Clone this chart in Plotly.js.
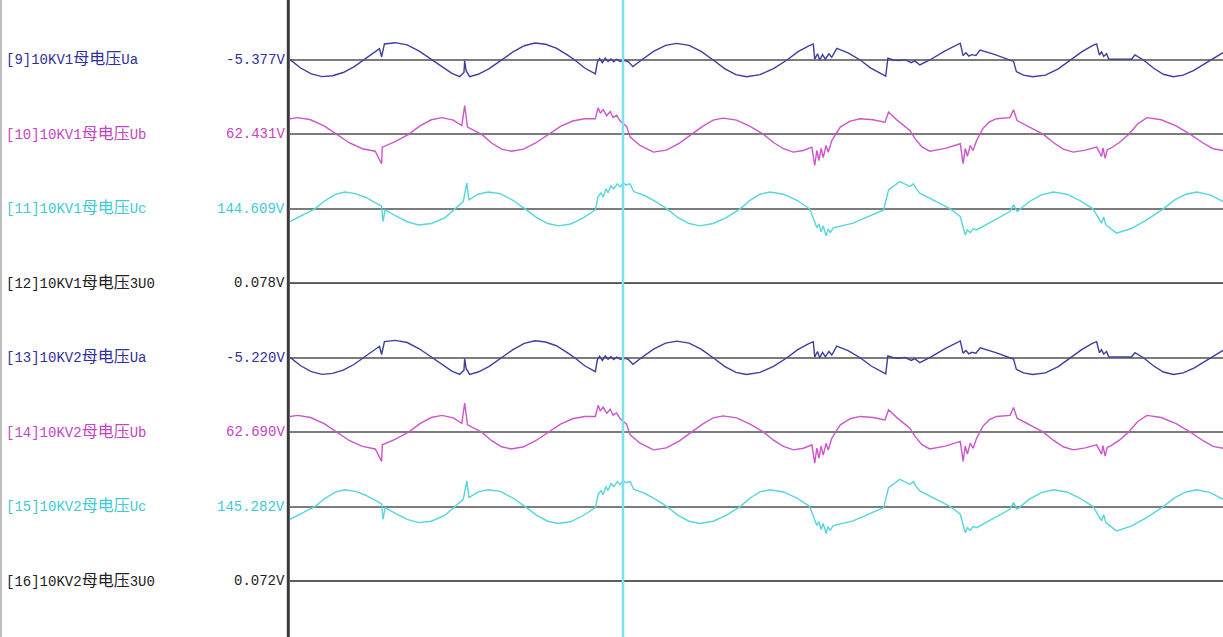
<!DOCTYPE html>
<html>
<head>
<meta charset="utf-8">
<script src="https://cdn.plot.ly/plotly-3.0.1.min.js"></script>
<style>
  html, body { margin: 0; padding: 0; background: #ffffff; }
  #chart { width: 1223px; height: 637px; }
</style>
</head>
<body>
<div id="chart"></div>
<script>
// Busbar voltage records (time in ms, instantaneous value in V)

// Phase A breakpoints, shared by both busbar sections
const tUa = [0, 1.5, 3, 4.5, 6, 7.5, 9, 10.3, 11.5, 12.6, 12.9, 13.3, 14.8, 16.5, 18.2, 20.0, 21.5, 22.8, 23.9, 24.5,
  24.6, 24.8, 25.3, 26.5, 28, 29.8, 31.4, 33, 34.5, 36, 37.5, 39, 40.1, 41.5, 43.0, 43.3, 43.6, 44.0, 44.4, 44.8,
  45.2, 45.6, 46.0, 46.5, 46.9, 47.3, 47.7, 48.3, 49.5, 51.2, 52.9, 54.5, 56.2, 57.9, 59.6, 61.2, 62.8, 64.3, 66.2, 68.1,
  70.0, 71.5, 73.0, 73.7, 73.9, 74.3, 74.6, 75.0, 75.4, 75.9, 76.3, 77.0, 78.6, 80.3, 81.8, 83.2, 83.9, 84.2, 85.0, 85.8,
  86.6, 87.5, 88.0, 88.7, 90.1, 92.2, 94.4, 94.8, 95.2, 95.6, 96.0, 96.6, 97.2, 99.3, 101.4, 101.9, 102.3, 103.3, 104.6, 106.4,
  108.2, 109.9, 111.5, 113.0, 113.6, 114.0, 114.3, 114.6, 115.0, 115.3, 118.5, 119.0, 119.6, 120.2, 121.6, 123.0, 124.4, 125.8, 127.3, 129.6,
  131.4];
const ua1 = [2, -45, -78, -93, -88, -70, -38, 0, 35, 64, 18, 90, 97, 85, 50, 0, -42, -75, -93, -70,
  -5, -60, -93, -80, -50, 0, 45, 80, 95, 88, 67, 30, 0, -45, -78, -10, 8, -15, 10, -8,
  6, -10, 4, -8, -5.377, -3, -12, -37, 0, 48, 82, 93, 82, 48, 0, -48, -82, -94, -82, -48,
  0, 45, 78, 90, 5, 35, 0, 30, 5, 35, 15, 65, 40, 0, -45, -78, -90, 10, 0, -3,
  2, -15, -5, -28, 0, 50, 94, 25, 40, 22, 30, 25, 56, 30, 0, -8, -65, -85, -94, -85,
  -50, 0, 45, 80, 90, 28, 45, 20, 35, 5, 4, 28, 15, 0, -45, -80, -94, -85, -58, 0,
  41];
const ua2 = [2, -45, -78, -93, -88, -70, -38, 0, 35, 64, 18, 90, 97, 85, 50, 0, -42, -75, -93, -70,
  -5, -60, -93, -80, -50, 0, 45, 80, 95, 88, 67, 30, 0, -45, -78, -10, 8, -15, 10, -8,
  6, -10, 4, -8, -5.220, -3, -12, -37, 0, 48, 82, 93, 82, 48, 0, -48, -82, -94, -82, -48,
  0, 45, 78, 90, 5, 35, 0, 30, 5, 35, 15, 65, 40, 0, -45, -78, -90, 10, 0, -3,
  2, -15, -5, -28, 0, 50, 94, 25, 40, 22, 30, 25, 56, 30, 0, -8, -65, -85, -94, -85,
  -50, 0, 45, 80, 90, 28, 45, 20, 35, 5, 4, 28, 15, 0, -45, -80, -94, -85, -58, 0,
  41];

// Phase B breakpoints
const tUb = [0, 1.1, 2.9, 4.8, 6.6, 8.4, 10.2, 12.0, 12.9, 13.0, 14.8, 16.7, 18.3, 19.9, 21.4, 23.0, 24.2, 24.6, 25.0, 27.0,
  28.4, 29.8, 31.2, 32.9, 34.6, 36.4, 38.1, 39.8, 41.5, 43.0, 43.4, 43.7, 44.1, 44.6, 45.1, 45.5, 46.0, 46.5, 46.9, 47.4,
  47.9, 49.3, 51.2, 53.0, 54.8, 56.6, 58.1, 59.6, 61.0, 62.9, 64.8, 66.7, 68.1, 69.5, 70.9, 72.3, 73.5, 73.9, 74.2, 74.5,
  74.8, 75.1, 75.5, 75.8, 76.3, 77.5, 78.9, 80.3, 82.1, 83.8, 84.3, 85.5, 86.7, 87.3, 88.0, 89.0, 90.1, 92.3, 94.4, 94.8,
  95.1, 95.4, 95.8, 96.2, 96.7, 97.6, 98.5, 99.5, 101.4, 101.9, 102.4, 104.2, 106.1, 107.5, 108.9, 110.3, 112.0, 113.6, 114.3, 114.5,
  114.8, 115.1, 115.5, 116.8, 118.1, 119.4, 120.7, 122.7, 124.8, 126.8, 128.6, 130.0, 131.4];
const ub1 = [88, 94, 82, 48, 0, -48, -80, -94, -164, -71, -40, 0, 48, 82, 94, 80, 50, 162, 41, 0,
  -48, -82, -94, -82, -48, 0, 45, 75, 88, 88, 150, 118, 140, 105, 128, 95, 108, 75, 62.431, 45,
  -15, -62, -99, -88, -50, 0, 45, 80, 91, 80, 45, 0, -45, -80, -99, -90, -71, -174, -90, -146,
  -78, -129, -62, -100, -34, 41, 75, 88, 82, 69, 125, 80, 40, 22, -22, -70, -94, -78, -52, -164,
  -78, -123, -62, -90, -34, 34, 70, 88, 94, 138, 78, 42, 0, -45, -82, -99, -88, -71, -123, -75,
  -134, -85, -80, -45, 0, 60, 94, 82, 48, 0, -48, -80, -90];
const ub2 = [88, 94, 82, 48, 0, -48, -80, -94, -164, -71, -40, 0, 48, 82, 94, 80, 50, 162, 41, 0,
  -48, -82, -94, -82, -48, 0, 45, 75, 88, 88, 150, 118, 140, 105, 128, 95, 108, 75, 62.690, 45,
  -15, -62, -99, -88, -50, 0, 45, 80, 91, 80, 45, 0, -45, -80, -99, -90, -71, -174, -90, -146,
  -78, -129, -62, -100, -34, 41, 75, 88, 82, 69, 125, 80, 40, 22, -22, -70, -94, -78, -52, -164,
  -78, -123, -62, -90, -34, 34, 70, 88, 94, 138, 78, 42, 0, -45, -82, -99, -88, -71, -123, -75,
  -134, -85, -80, -45, 0, 60, 94, 82, 48, 0, -48, -80, -90];

// Phase C breakpoints
const tUc = [0, 1.2, 2.3, 3.5, 4.9, 6.3, 7.7, 9.2, 10.6, 12.0, 12.9, 13.1, 13.4, 14.9, 16.5, 18.1, 19.9, 21.8, 23.7, 24.4,
  24.9, 25.2, 26.5, 27.9, 29.6, 31.4, 33.1, 34.7, 36.3, 37.8, 39.5, 41.3, 43.0, 43.4, 43.8, 44.1, 44.5, 44.8, 45.2, 45.6,
  46.1, 46.5, 46.9, 47.3, 47.9, 48.4, 49.9, 51.5, 53.1, 54.6, 56.2, 57.7, 59.6, 61.5, 63.4, 64.8, 66.2, 67.6, 69.5, 71.4,
  73.2, 73.9, 74.2, 74.5, 74.8, 75.1, 75.5, 75.8, 76.1, 76.5, 79.3, 83.6, 84.3, 85.9, 87.3, 87.8, 88.2, 88.7, 90.8, 93.0,
  94.4, 94.8, 95.1, 95.4, 95.8, 96.2, 96.7, 101.4, 101.9, 102.4, 104.1, 105.8, 107.5, 109.4, 111.2, 113.1, 113.8, 114.3, 114.6, 114.9,
  116.4, 118.5, 120.7, 123.0, 124.6, 126.2, 127.7, 129.6, 131.4];
const uc1 = [-71, -48, -25, 0, 45, 80, 94, 85, 65, 32, 15, -71, -6, -40, -72, -90, -82, -50, 13, 41,
  144, 50, 82, 94, 85, 48, 0, -48, -82, -95, -85, -50, -6, 69, 90, 67, 112, 90, 129, 112,
  140, 123, 144.609, 134, 140, 97, 75, 40, 0, -48, -82, -95, -82, -48, 0, 48, 82, 94, 82, 48,
  0, -71, -106, -84, -129, -95, -151, -112, -134, -106, -80, -6, 106, 153, 125, 140, 112, 88, 45, 0,
  -43, -108, -146, -118, -134, -112, -118, -15, 22, -15, 40, 78, 94, 82, 48, 0, -43, -80, -45, -90,
  -136, -110, -60, 0, 50, 82, 94, 78, 41];
const uc2 = [-71, -48, -25, 0, 45, 80, 94, 85, 65, 32, 15, -71, -6, -40, -72, -90, -82, -50, 13, 41,
  144, 50, 82, 94, 85, 48, 0, -48, -82, -95, -85, -50, -6, 69, 90, 67, 112, 90, 129, 112,
  140, 123, 145.282, 134, 140, 97, 75, 40, 0, -48, -82, -95, -82, -48, 0, 48, 82, 94, 82, 48,
  0, -71, -106, -84, -129, -95, -151, -112, -134, -106, -80, -6, 106, 153, 125, 140, 112, 88, 45, 0,
  -43, -108, -146, -118, -134, -112, -118, -15, 22, -15, 40, 78, 94, 82, 48, 0, -43, -80, -45, -90,
  -136, -110, -60, 0, 50, 82, 94, 78, 41];

// Zero-sequence voltage, essentially flat
const t3U0 = [0, 46.9, 131.4];
const u3U0a = [0.078, 0.078, 0.078];
const u3U0b = [0.072, 0.072, 0.072];

// Cursor position (ms)
const cursorT = 46.9;

const channelNames = [
  '[9]10KV1母电压Ua', '[10]10KV1母电压Ub', '[11]10KV1母电压Uc', '[12]10KV1母电压3U0',
  '[13]10KV2母电压Ua', '[14]10KV2母电压Ub', '[15]10KV2母电压Uc', '[16]10KV2母电压3U0'
];

// ---- drawing ----
const W = 1223, H = 637;
const waveLeft = 290;          // left edge of the waveform area (px)
const firstBase = 60;          // baseline of the first channel (px from top)
const pitch = 74.43;           // distance between channel baselines (px)
const halfBand = 37.2;         // half of a channel band (px)
const voltsPerPx = 5.6;
const yR = halfBand * voltsPerPx;

const colA = '#3e3ea0', colB = '#cc55cc', colC = '#55d6de', col0 = '#555555';
const lblA = '#30309a', lblB = '#c444c4', lblC = '#3fcad6', lbl0 = '#222222';

const chans = [
  { t: tUa, v: ua1, c: colA, l: lblA },
  { t: tUb, v: ub1, c: colB, l: lblB },
  { t: tUc, v: uc1, c: colC, l: lblC },
  { t: t3U0, v: u3U0a, c: col0, l: lbl0 },
  { t: tUa, v: ua2, c: colA, l: lblA },
  { t: tUb, v: ub2, c: colB, l: lblB },
  { t: tUc, v: uc2, c: colC, l: lblC },
  { t: t3U0, v: u3U0b, c: col0, l: lbl0 }
];

const traces = [];
const annotations = [];
const layout = {
  width: W, height: H,
  margin: { l: 0, r: 0, t: 0, b: 0, pad: 0 },
  paper_bgcolor: '#ffffff', plot_bgcolor: 'rgba(0,0,0,0)',
  showlegend: false,
  xaxis: {
    domain: [waveLeft / W, 1], range: [0, 131.4],
    showgrid: false, zeroline: false, showticklabels: false, ticks: '', showline: false, fixedrange: true
  },
  shapes: [],
  annotations: annotations
};

const lblFont = "'Liberation Mono', 'Noto Sans CJK SC', monospace";
// Chinese characters are set a little larger than the Latin part of the name
const styleName = s => s.replace(/([\u4e00-\u9fff]+)/g, '<span style="font-size:16px">$1</span>');

chans.forEach((ch, i) => {
  const axKey = i === 0 ? 'yaxis' : 'yaxis' + (i + 1);
  const axRef = i === 0 ? 'y' : 'y' + (i + 1);
  const base = firstBase + i * pitch;
  const top = base - halfBand, bot = base + halfBand;
  layout[axKey] = {
    domain: [Math.max(0, 1 - bot / H), Math.min(1, 1 - top / H)],
    range: [-yR, yR], anchor: 'x',
    showgrid: false, showticklabels: false, ticks: '', showline: false,
    zeroline: true, zerolinecolor: '#7c7c7c', zerolinewidth: 2, fixedrange: true
  };
  traces.push({
    type: 'scatter', mode: 'lines', x: ch.t, y: ch.v, xaxis: 'x', yaxis: axRef,
    line: { color: ch.c, width: 1.4 }, hoverinfo: 'skip'
  });
  const k = ch.t.indexOf(cursorT);
  annotations.push({
    xref: 'paper', yref: axRef, x: 4 / W, y: 0, xanchor: 'left', yanchor: 'middle',
    text: styleName(channelNames[i]), showarrow: false, font: { family: lblFont, size: 14, color: ch.l }
  });
  annotations.push({
    xref: 'paper', yref: axRef, x: 287 / W, y: 0, xanchor: 'right', yanchor: 'middle',
    text: ch.v[k].toFixed(3) + 'V', showarrow: false, font: { family: lblFont, size: 14, color: ch.l }
  });
});

layout.shapes.push(
  { type: 'line', xref: 'paper', yref: 'paper', x0: 1 / W, x1: 1 / W, y0: 0, y1: 1,
    line: { color: '#a8a8a8', width: 1.5 } },
  { type: 'line', xref: 'paper', yref: 'paper', x0: 288.3 / W, x1: 288.3 / W, y0: 0, y1: 1,
    line: { color: '#3a3a3a', width: 3 } },
  { type: 'line', xref: 'x', yref: 'paper', x0: cursorT, x1: cursorT, y0: 0, y1: 1,
    line: { color: '#7fe2ea', width: 2.5 } }
);

Plotly.newPlot('chart', traces, layout, { staticPlot: true, displayModeBar: false });
</script>
</body>
</html>
